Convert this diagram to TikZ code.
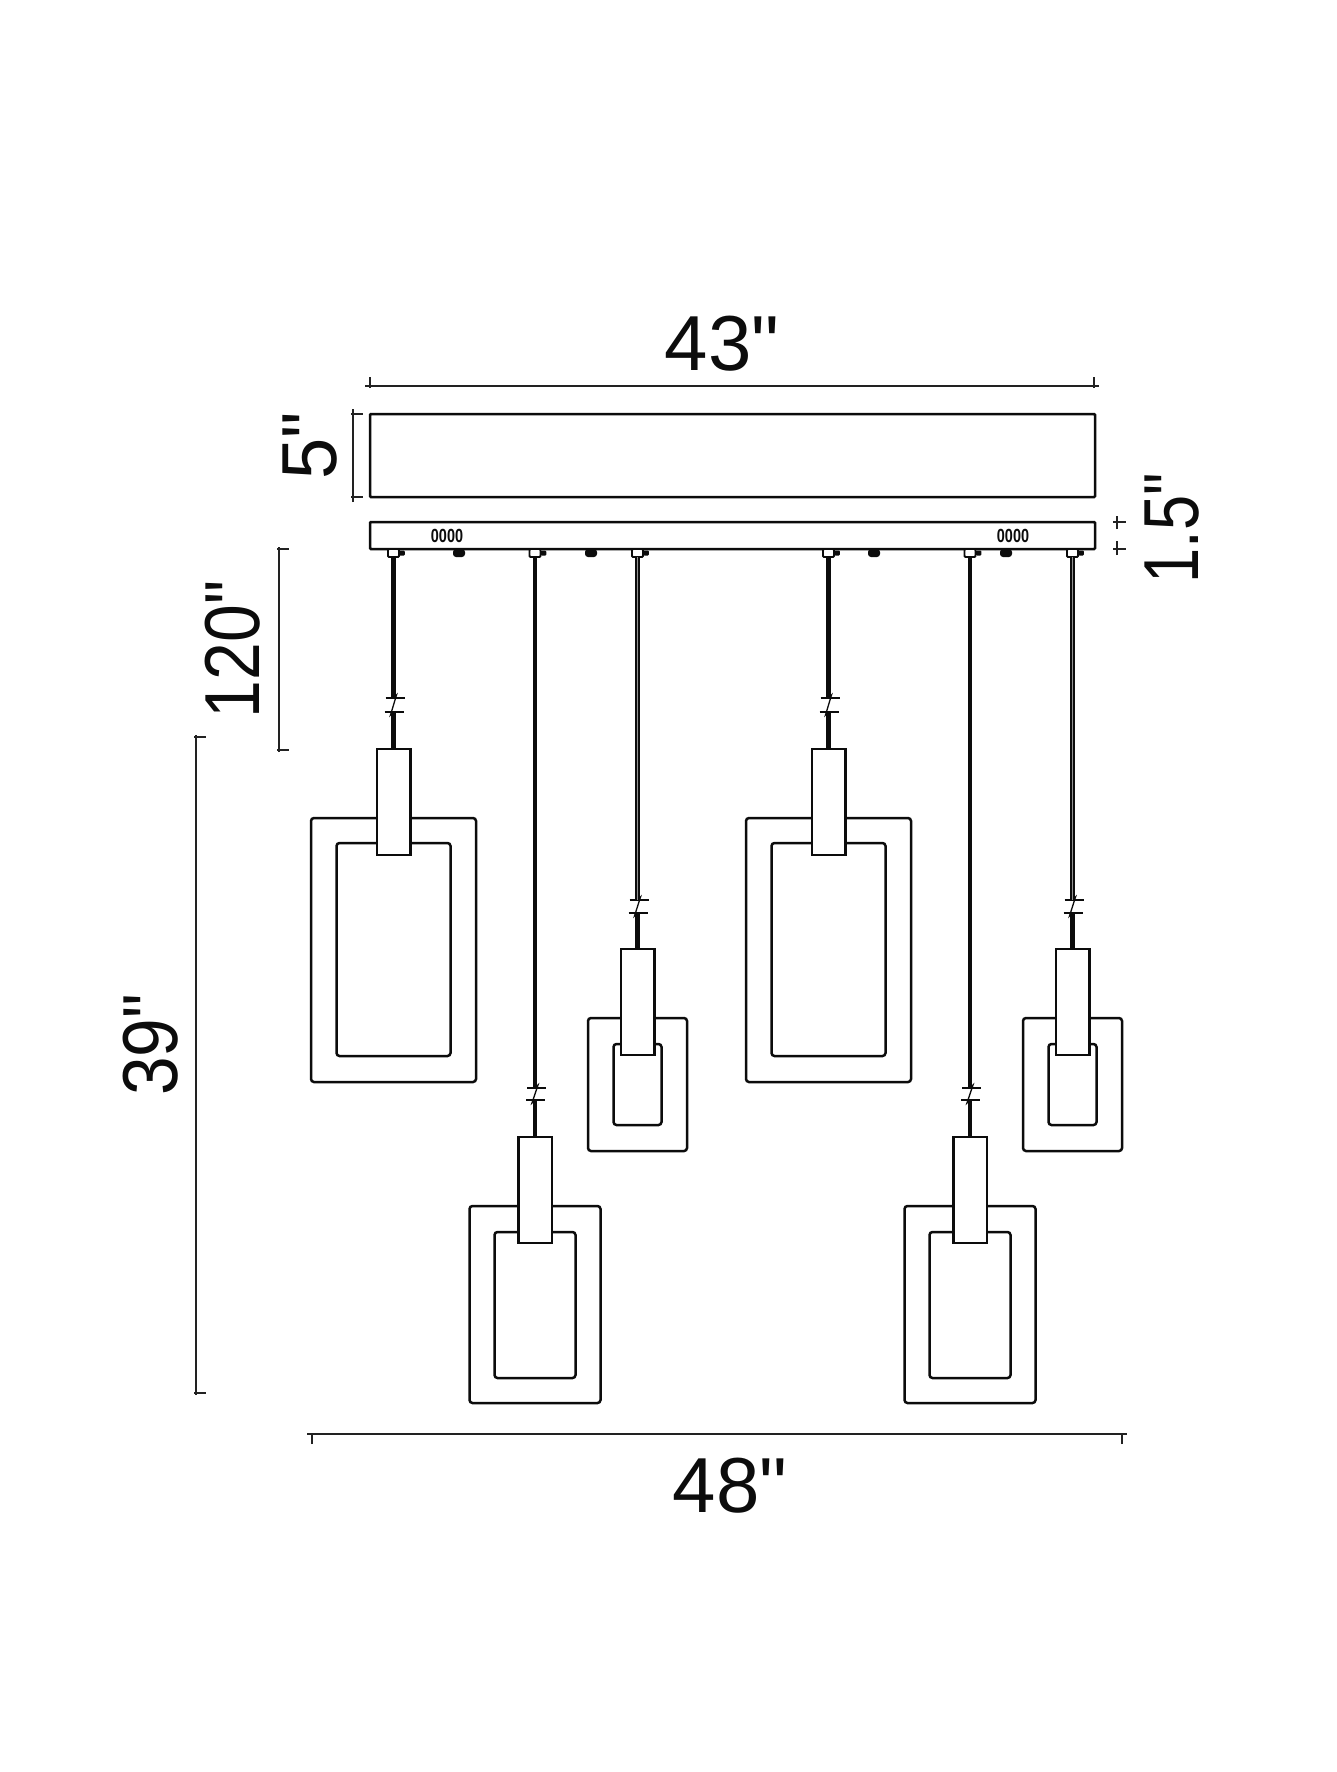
\documentclass[tikz,border=0pt]{standalone}
\usepackage{fontspec}
\usepackage{graphicx}
\setmainfont[Ligatures=TeXOff]{Liberation Sans}
\definecolor{ink}{HTML}{0C0C0C}
\definecolor{dimink}{HTML}{222222}
\tikzset{
  x=1pt,y=-1pt,
  part/.style={draw=ink,line width=2.5pt,inner sep=0pt,outer sep=0pt,rectangle},
  frame/.style={part,rounded corners=3pt},
  neck/.style={part,fill=white},
  mount/.style={draw=ink,line width=1.8pt,fill=white,inner sep=0pt,outer sep=0pt,rectangle,rounded corners=1pt,minimum width=11pt,minimum height=8pt},
  nub/.style={fill=ink,inner sep=0pt,outer sep=0pt,rectangle,rounded corners=1pt,minimum width=5.5pt,minimum height=5pt},
  blob/.style={fill=ink,inner sep=0pt,outer sep=0pt,rectangle,rounded corners=3pt,minimum width=12pt,minimum height=8pt},
  cord/.style={draw=ink,line width=4.4pt},
  cordcore/.style={draw=ink!45,line width=0.9pt},
  cordthin/.style={draw=ink,line width=1.3pt},
  brk/.style={draw=ink,line width=1.7pt},
  dimline/.style={draw=dimink,line width=1.9pt},
  dimhead/.style={draw=dimink,line width=2.2pt},
  dimtext/.style={inner sep=0pt,outer sep=0pt,font=\fontsize{78}{78}\selectfont,text=ink},
  tinytext/.style={inner sep=0pt,outer sep=0pt,font=\fontsize{19}{19}\selectfont,text=ink}
}
\newcommand{\squeezed}[2]{\rotatebox{90}{\scalebox{#1}[1]{#2}}}
\begin{document}
\begin{tikzpicture}
\useasboundingbox (0,0) rectangle (1336,1772);
\fill[white] (0,0) rectangle (1336,1772);

% canopy and bar
\node[part,rounded corners=1pt,minimum width=725pt,minimum height=83pt] (canopy) at (732.5,455.5) {};
\node[part,rounded corners=1pt,minimum width=725pt,minimum height=27pt] (bar) at (732.5,535.5) {};
\node[tinytext] (codeL) at (447,536) {\scalebox{0.76}[1]{\bfseries 0000}};
\node[tinytext] (codeR) at (1013,536) {\scalebox{0.76}[1]{\bfseries 0000}};
\node[blob] (blobA) at (459,553) {};
\node[blob] (blobB) at (591,553) {};
\node[blob] (blobC) at (874,553) {};
\node[blob] (blobD) at (1006,553) {};

% pendants: name / cx / neck top / outer half width, top, bottom / inner half width, top, bottom / break 1, 2
\foreach \n/\cx/\nt/\oh/\ot/\ob/\ih/\it/\ib/\ba/\bb in {
  A/393.5/749/82.5/818/1082/57/843/1056/698/712,
  B/535/1137/65.5/1206/1403/40.5/1232/1378/1088/1100,
  C/637.5/949/49.5/1018/1151/24/1044/1125/900/913,
  D/828.5/749/82.5/818/1082/57/843/1056/698/712,
  E/970/1137/65.5/1206/1403/40.5/1232/1378/1088/1100,
  F/1072.5/949/49.5/1018/1151/24/1044/1125/900/913}{
  \pgfmathsetmacro{\ow}{2*\oh}
  \pgfmathsetmacro{\oh}{\ob-\ot}
  \pgfmathsetmacro{\oc}{(\ob+\ot)/2}
  \pgfmathsetmacro{\iw}{2*\ih}
  \pgfmathsetmacro{\ihh}{\ib-\it}
  \pgfmathsetmacro{\ic}{(\ib+\it)/2}
  \pgfmathsetmacro{\nc}{\nt+53}
  \node[frame,minimum width=\ow pt,minimum height=\oh pt] (outer\n) at (\cx,\oc) {};
  \node[frame,minimum width=\iw pt,minimum height=\ihh pt] (inner\n) at (\cx,\ic) {};
  \node[neck,minimum width=33.5pt,minimum height=106pt] (neck\n) at (\cx,\nc) {};
  \node[mount] (mount\n) at (\cx,553) {};
  \node[nub] at ([xshift=3pt]mount\n.east) {};
  \coordinate (brkA\n) at (\cx,\ba);
  \coordinate (brkB\n) at (\cx,\bb);
  \draw[cord] (mount\n.south) -- (brkA\n);
  \draw[cord] (brkB\n) -- (neck\n.north);
  \draw[cordthin] (brkA\n) -- ([shift={(3pt,3pt)}]brkA\n) -- ([shift={(-3pt,-3pt)}]brkB\n) -- (brkB\n);
  \draw[brk] ([xshift=-8pt]brkA\n) -- ([xshift=11pt]brkA\n);
  \draw[brk] ([xshift=-9pt]brkB\n) -- ([xshift=10pt]brkB\n);
}
\draw[cordcore] (mountC.south) -- (brkAC);
\draw[cordcore] (mountF.south) -- (brkAF);

% dimension 43
\coordinate (d43a) at (370,386);
\coordinate (d43b) at (1094,386);
\draw[dimline,line width=2.6pt] (d43a) -- (d43b);
\draw[dimhead] ([xshift=-5pt]d43a) -- ([xshift=5pt]d43a);
\draw[dimhead] ([yshift=-2pt]d43a) -- ([yshift=9pt]d43a);
\draw[dimhead] ([xshift=-5pt]d43b) -- ([xshift=5pt]d43b);
\draw[dimhead] ([yshift=-2pt]d43b) -- ([yshift=9pt]d43b);
\node[dimtext] (t43) at (722,344) {43"};

% dimension 5
\coordinate (d5a) at (353,414);
\coordinate (d5b) at (353,497);
\draw[dimline,line width=2.4pt] (d5a) -- (d5b);
\draw[dimhead] ([xshift=-2pt]d5a) -- ([xshift=10pt]d5a);
\draw[dimhead] ([xshift=-2pt]d5b) -- ([xshift=10pt]d5b);
\draw[dimhead] ([yshift=-5pt]d5a) -- ([yshift=5pt]d5a);
\draw[dimhead] ([yshift=-5pt]d5b) -- ([yshift=5pt]d5b);
\node[dimtext] (t5) at (310,446) {\squeezed{0.95}{5"}};

% dimension 1.5 (ticks only)
\coordinate (d15a) at (1117,522);
\coordinate (d15b) at (1117,549);
\draw[dimhead] ([xshift=-4pt]d15a) -- ([xshift=9pt]d15a);
\draw[dimhead] ([xshift=-4pt]d15b) -- ([xshift=9pt]d15b);
\draw[dimhead] ([yshift=-7pt]d15a) -- ([yshift=6pt]d15a);
\draw[dimhead] ([yshift=-6pt]d15b) -- ([yshift=8pt]d15b);
\node[dimtext] (t15) at (1172,528.5) {\squeezed{0.81}{1.5"}};

% dimension 120
\coordinate (d120a) at (279,549);
\coordinate (d120b) at (279,750);
\draw[dimline] (d120a) -- (d120b);
\draw[dimhead] ([xshift=-2pt]d120a) -- ([xshift=10pt]d120a);
\draw[dimhead] ([xshift=-2pt]d120b) -- ([xshift=10pt]d120b);
\draw[dimhead] ([yshift=-5pt]d120a) -- ([yshift=2pt]d120a);
\draw[dimhead] ([yshift=-2pt]d120b) -- ([yshift=5pt]d120b);
\node[dimtext] (t120) at (233,649.5) {\squeezed{0.87}{120"}};

% dimension 39
\coordinate (d39a) at (196,737);
\coordinate (d39b) at (196,1393);
\draw[dimline] (d39a) -- (d39b);
\draw[dimhead] ([xshift=-2pt]d39a) -- ([xshift=10pt]d39a);
\draw[dimhead] ([xshift=-2pt]d39b) -- ([xshift=10pt]d39b);
\draw[dimhead] ([yshift=-5pt]d39a) -- ([yshift=2pt]d39a);
\draw[dimhead] ([yshift=-2pt]d39b) -- ([yshift=5pt]d39b);
\node[dimtext] (t39) at (151,1045) {\squeezed{0.89}{39"}};

% dimension 48
\coordinate (d48a) at (312,1434);
\coordinate (d48b) at (1122,1434);
\draw[dimline,line width=2.4pt] (d48a) -- (d48b);
\draw[dimhead] ([xshift=-5pt]d48a) -- ([xshift=3pt]d48a);
\draw[dimhead] ([xshift=-3pt]d48b) -- ([xshift=5pt]d48b);
\draw[dimhead] ([yshift=-10pt]d48a) -- ([yshift=1pt]d48a);
\draw[dimhead] ([yshift=-10pt]d48b) -- ([yshift=1pt]d48b);
\node[dimtext] (t48) at (730,1486) {48"};
\end{tikzpicture}
\end{document}
